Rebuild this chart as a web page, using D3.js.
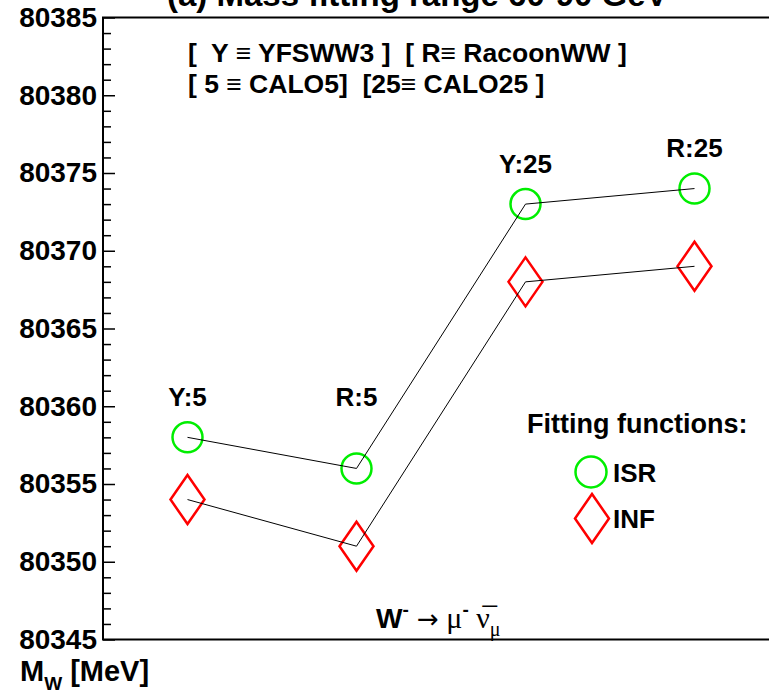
<!DOCTYPE html>
<html>
<head>
<meta charset="utf-8">
<script src="https://cdn.jsdelivr.net/npm/d3@7"></script>
<style>
  body { margin: 0; background: #fff; }
  text { font-family: 'Liberation Sans', Arial, sans-serif; font-weight: bold; fill: #000; }
  .sym { font-family: 'Liberation Serif', 'DejaVu Serif', serif; font-weight: normal; }
  .arrow { font-family: 'DejaVu Sans', sans-serif; font-weight: normal; }
</style>
</head>
<body>
<svg class="canvas" width="769" height="696"></svg>
<script>
'use strict'

// Points, left to right
const labels = ['Y:5', 'R:5', 'Y:25', 'R:25']
const isrValues = [80358, 80356, 80373, 80374]
const infValues = [80354, 80351, 80368, 80369]
const labelValues = [80360, 80360, 80375, 80376]
const yMajorTicks = [80345, 80350, 80355, 80360, 80365, 80370, 80375, 80380, 80385]
const legendItems = [
  { name: 'ISR', shape: 'circle' },
  { name: 'INF', shape: 'diamond' },
]

const svg = d3.select('.canvas')
const frameLeft = 103, frameRight = 779, frameTop = 17.5, frameBottom = 639.5

const x = d3.scaleLinear().domain([0.5, 4.5]).range([frameLeft, frameRight])
const y = d3.scaleLinear().domain([80345, 80385]).range([frameBottom, frameTop])

const diamond = (cx, cy) =>
  `M${cx},${cy - 24.5}L${cx + 17},${cy}L${cx},${cy + 24.5}L${cx - 17},${cy}Z`

// Title, mostly cut off by the top edge (as in the original)
svg.append('text')
  .attr('x', 167).attr('y', 6)
  .style('font-size', '33px')
  .text('(a) Mass fitting range 60-90 GeV')

// Frame
svg.append('rect')
  .attr('x', frameLeft).attr('y', frameTop)
  .attr('width', frameRight - frameLeft).attr('height', frameBottom - frameTop)
  .attr('fill', 'none').attr('stroke', '#000').attr('stroke-width', 2)

// Y axis, ticks pointing inward
const minorTicks = d3.range(80345, 80386).filter(v => !yMajorTicks.includes(v))
svg.append('g')
  .attr('transform', `translate(${frameLeft}, 0)`)
  .call(d3.axisLeft(y).tickValues(minorTicks).tickSize(-8).tickFormat(''))
  .call(g => g.select('.domain').remove())
svg.append('g')
  .attr('transform', `translate(${frameLeft}, 0)`)
  .call(d3.axisLeft(y).tickValues(yMajorTicks).tickSize(-12).tickPadding(6).tickFormat(d3.format('d')))
  .call(g => g.select('.domain').remove())
  .call(g => g.selectAll('text')
    .style('font-size', '28px')
    .style('font-family', "'Liberation Sans', Arial, sans-serif")
    .style('font-weight', 'bold'))
svg.selectAll('.tick line').attr('stroke', '#000').attr('stroke-width', 1.5)

// Markers
const idx = labels.map((d, i) => i + 1)
svg.selectAll('.isr')
  .data(isrValues)
  .enter()
  .append('circle')
  .attr('cx', (d, i) => x(idx[i]))
  .attr('cy', d => y(d))
  .attr('r', 15)
  .attr('fill', 'none').attr('stroke', '#00ee00').attr('stroke-width', 2.5)
svg.selectAll('.inf')
  .data(infValues)
  .enter()
  .append('path')
  .attr('d', (d, i) => diamond(x(idx[i]), y(d)))
  .attr('fill', 'none').attr('stroke', '#ff0000').attr('stroke-width', 2.5)

// Connecting lines
const line = d3.line().x((d, i) => x(idx[i])).y(d => y(d))
;[isrValues, infValues].forEach(vals => {
  svg.append('path')
    .attr('d', line(vals))
    .attr('fill', 'none').attr('stroke', '#000').attr('stroke-width', 1)
})

// Point labels
svg.selectAll('.plabel')
  .data(labels)
  .enter()
  .append('text')
  .attr('x', (d, i) => x(idx[i]))
  .attr('y', (d, i) => y(labelValues[i]))
  .attr('text-anchor', 'middle')
  .style('font-size', '26px')
  .text(d => d)

// Header notes
const header = svg.append('g').style('font-size', '26.5px')
header.append('text').attr('x', 188).attr('y', 62)
  .attr('xml:space', 'preserve')
  .text('[  Y \u2261 YFSWW3 ]  [ R\u2261 RacoonWW ]')
header.append('text').attr('x', 188).attr('y', 93)
  .attr('xml:space', 'preserve')
  .text('[ 5 \u2261 CALO5]  [25\u2261 CALO25 ]')

// Legend
svg.append('text').attr('x', 527).attr('y', 433)
  .style('font-size', '27px').text('Fitting functions:')
const legend = svg.selectAll('.legend')
  .data(legendItems)
  .enter()
  .append('g')
  .attr('transform', (d, i) => `translate(591, ${472 + i * 46.5})`)
legend.filter(d => d.shape === 'circle').append('circle')
  .attr('r', 15.5).attr('fill', 'none').attr('stroke', '#00ee00').attr('stroke-width', 2.5)
legend.filter(d => d.shape === 'diamond').append('path')
  .attr('d', diamond(1, 0)).attr('fill', 'none').attr('stroke', '#ff0000').attr('stroke-width', 2.5)
legend.append('text').attr('x', 22).attr('y', 9.5)
  .style('font-size', '26px').text(d => d.name)

// Channel label
const ch = svg.append('text').attr('x', 376).attr('y', 628).style('font-size', '28px')
ch.append('tspan').text('W')
ch.append('tspan').attr('dy', -12).style('font-size', '19px').text('-')
ch.append('tspan').attr('dy', 12).attr('class', 'arrow').style('font-size', '26px').text(' \u2192')
ch.append('tspan').attr('class', 'sym').style('font-size', '30px').text(' \u03bc')
ch.append('tspan').attr('dy', -12).style('font-size', '19px').text('-')
ch.append('tspan').attr('dy', 12).attr('class', 'sym').style('font-size', '30px').text(' \u03bd\u0305')
ch.append('tspan').attr('dy', 8).attr('class', 'sym').style('font-size', '20px').text('\u03bc')

// Y axis title
const yt = svg.append('text').attr('x', 20).attr('y', 681).style('font-size', '29px')
yt.append('tspan').text('M')
yt.append('tspan').attr('dy', 9).style('font-size', '19px').text('W')
yt.append('tspan').attr('dy', -9).text(' [MeV]')
</script>
</body>
</html>
